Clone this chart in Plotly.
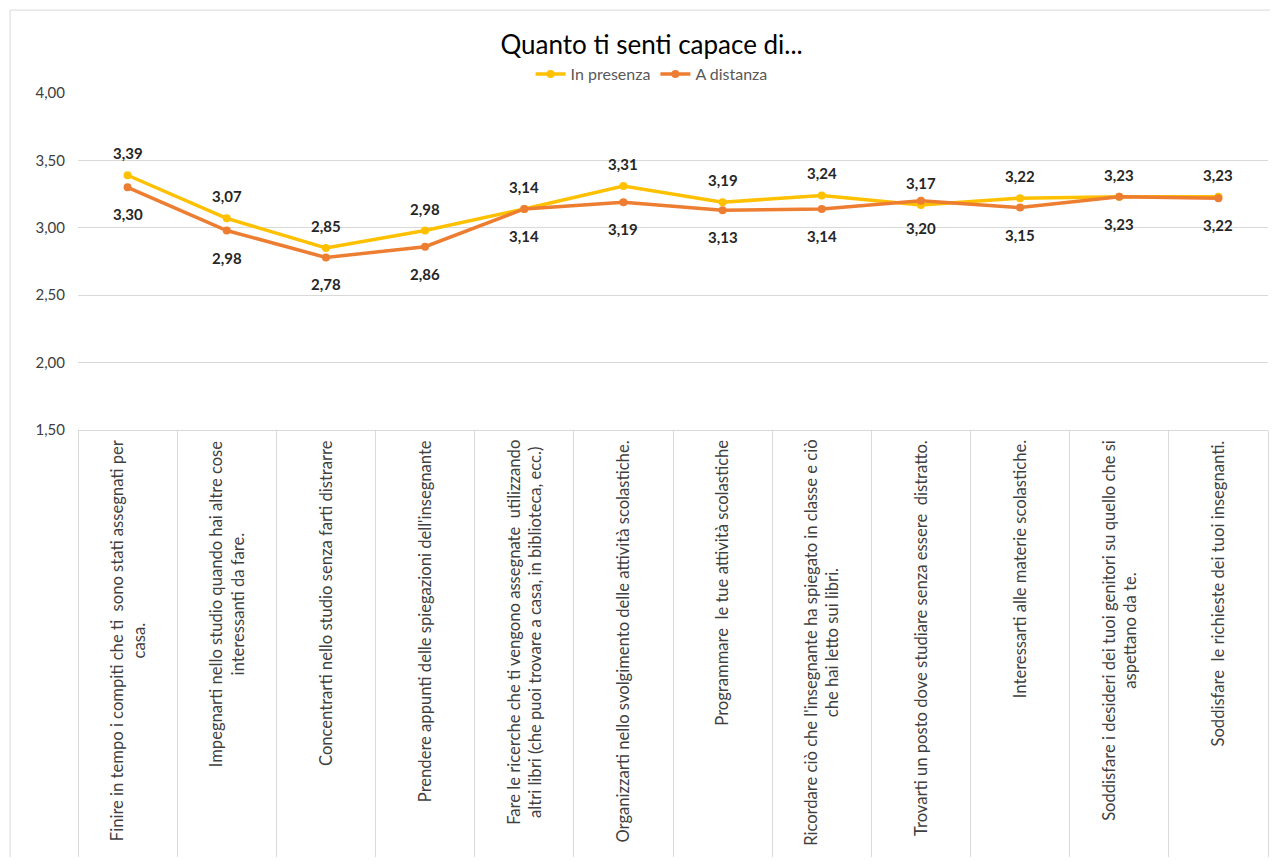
import plotly.graph_objects as go

categorie = [
    "Finire in tempo i compiti che ti  sono stati assegnati per<br>casa.",
    "Impegnarti nello studio quando hai altre cose<br>interessanti da fare.",
    "Concentrarti nello studio senza farti distrarre",
    "Prendere appunti delle spiegazioni dell'insegnante",
    "Fare le ricerche che ti vengono assegnate  utilizzando<br>altri libri (che puoi trovare a casa, in biblioteca, ecc.)",
    "Organizzarti nello svolgimento delle attività scolastiche.",
    "Programmare  le tue attività scolastiche",
    "Ricordare ciò che l'insegnante ha spiegato in classe e ciò<br>che hai letto sui libri.",
    "Trovarti un posto dove studiare senza essere  distratto.",
    "Interessarti alle materie scolastiche.",
    "Soddisfare i desideri dei tuoi genitori su quello che si<br>aspettano da te.",
    "Soddisfare  le richieste dei tuoi insegnanti.",
]
in_presenza = [3.39, 3.07, 2.85, 2.98, 3.14, 3.31, 3.19, 3.24, 3.17, 3.22, 3.23, 3.23]
a_distanza = [3.30, 2.98, 2.78, 2.86, 3.14, 3.19, 3.13, 3.14, 3.20, 3.15, 3.23, 3.22]

GIALLO = "#FFC000"
ARANCIO = "#ED7D31"
FONT = "Lato"

fig = go.Figure()
fig.add_trace(go.Scatter(x=categorie, y=in_presenza, name="In presenza", mode="lines+markers",
                         line=dict(color=GIALLO, width=3.5), marker=dict(size=8, color=GIALLO)))
fig.add_trace(go.Scatter(x=categorie, y=a_distanza, name="A distanza", mode="lines+markers",
                         line=dict(color=ARANCIO, width=3.5), marker=dict(size=8, color=ARANCIO)))

# etichette dati: giallo sopra, arancio sotto
for serie, shift in ((in_presenza, 22), (a_distanza, -27)):
    for c, v in zip(categorie, serie):
        fig.add_annotation(x=c, y=v, text=f"<b>{v:.2f}</b>".replace(".", ","), showarrow=False,
                           yshift=shift, font=dict(family=FONT, size=15, color="#262626"))

# etichette categorie ruotate
for c in categorie:
    fig.add_annotation(x=c, xref="x", y=-0.024, yref="paper", text=c, textangle=-90,
                       showarrow=False, yanchor="top", xanchor="center", align="center",
                       font=dict(family=FONT, size=16.6, color="#404040"))

# bordo area grafico
fig.add_shape(type="rect", xref="paper", yref="paper", x0=-0.0571, x1=1.2, y0=-1.5, y1=1.246,
              line=dict(color="#D9D9D9", width=1), layer="below")

fig.update_layout(
    width=1262, height=849,
    margin=dict(l=70, r=2, t=85, b=427, autoexpand=False),
    paper_bgcolor="white", plot_bgcolor="white",
    separators=",.",
    title=dict(text="Quanto ti senti capace di...", x=0.51, xanchor="center", y=0.956, yanchor="middle",
               font=dict(family=FONT, size=26, color="#000000")),
    legend=dict(orientation="h", x=0.482, xanchor="center", y=1.056, yanchor="middle",
                font=dict(family=FONT, size=16, color="#595959"), bgcolor="rgba(0,0,0,0)"),
    showlegend=True,
)
fig.update_xaxes(type="category", range=[-0.5, 11.5], showticklabels=False, showgrid=False,
                 showline=True, linecolor="#D9D9D9", linewidth=1, automargin=False,
                 ticks="outside", tickson="boundaries", ticklen=440, tickcolor="#D9D9D9", tickwidth=1)
fig.update_yaxes(range=[1.5, 4.0], dtick=0.5, tick0=1.5, tickformat=".2f", showgrid=True,
                 gridcolor="#D9D9D9", gridwidth=1, zeroline=False, showline=False, automargin=False,
                 ticklabelstandoff=12, tickfont=dict(family=FONT, size=15, color="#404040"))

fig.write_html("out.html")
